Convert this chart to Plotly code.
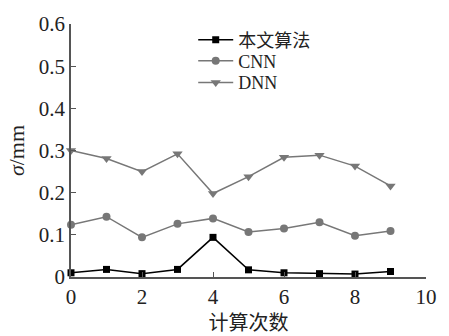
import plotly.graph_objects as go

x_vals = [0, 1, 2, 3, 4, 5, 6, 7, 8, 9]
ours = [0.010, 0.018, 0.008, 0.018, 0.094, 0.017, 0.010, 0.008, 0.007, 0.013]
cnn = [0.124, 0.143, 0.094, 0.126, 0.139, 0.107, 0.115, 0.130, 0.098, 0.109]
dnn = [0.300, 0.281, 0.250, 0.292, 0.198, 0.238, 0.284, 0.289, 0.263, 0.216]
names = ["本文算法", "CNN", "DNN"]
y_ticks = [0, 0.1, 0.2, 0.3, 0.4, 0.5, 0.6]
y_ticktext = ["0", "0.1", "0.2", "0.3", "0.4", "0.5", "0.6"]
x_ticks = [0, 2, 4, 6, 8, 10]

serif = "Liberation Serif, DejaVu Serif"
cjk = "Noto Sans CJK SC"
gray = "#777777"

fig = go.Figure()
fig.add_trace(go.Scatter(x=x_vals, y=ours, name=names[0], mode="lines+markers",
                         line=dict(color="black", width=1.5),
                         marker=dict(symbol="square", size=7, color="black"),
                         cliponaxis=False, legend="legend"))
fig.add_trace(go.Scatter(x=x_vals, y=cnn, name=names[1], mode="lines+markers",
                         line=dict(color=gray, width=1.5),
                         marker=dict(symbol="circle", size=8, color=gray),
                         cliponaxis=False, legend="legend2"))
fig.add_trace(go.Scatter(x=x_vals, y=dnn, name=names[2], mode="lines+markers",
                         line=dict(color=gray, width=1.5),
                         marker=dict(symbol="triangle-down", size=9, color=gray),
                         cliponaxis=False, legend="legend3"))

def leg(ypix, fam, size):
    return dict(x=(197 - 71) / 366, y=(282 - ypix) / 267, xanchor="left", yanchor="middle",
                bgcolor="rgba(0,0,0,0)", font=dict(family=fam, size=size, color="#222222"),
                itemwidth=35, borderwidth=0)

fig.update_layout(
    width=449, height=336,
    margin=dict(l=71, r=12, t=15, b=54),
    paper_bgcolor="white", plot_bgcolor="white",
    font=dict(family=serif, size=21, color="#222222"),
    showlegend=True,
    legend=leg(32, cjk, 18),
    legend2=leg(54, serif, 18),
    legend3=leg(77, serif, 18),
)
fig.update_xaxes(range=[0, 10], tickvals=x_ticks, ticks="inside", ticklen=5,
                 showline=True, linecolor="#555555", linewidth=1.5, tickcolor="#555555",
                 showgrid=False, zeroline=False,
                 tickfont=dict(family=serif, size=21),
                 title=dict(text="计算次数", font=dict(family=cjk, size=20), standoff=1))
fig.update_yaxes(range=[0, 0.6], tickvals=y_ticks, ticktext=y_ticktext, ticks="inside", ticklen=5,
                 showline=True, linecolor="#555555", linewidth=1.5, tickcolor="#555555",
                 showgrid=False, zeroline=False,
                 tickfont=dict(family=serif, size=21),
                 title=dict(text="<i>σ</i>/mm", font=dict(family=serif, size=22), standoff=8))

fig.write_html("out.html")
